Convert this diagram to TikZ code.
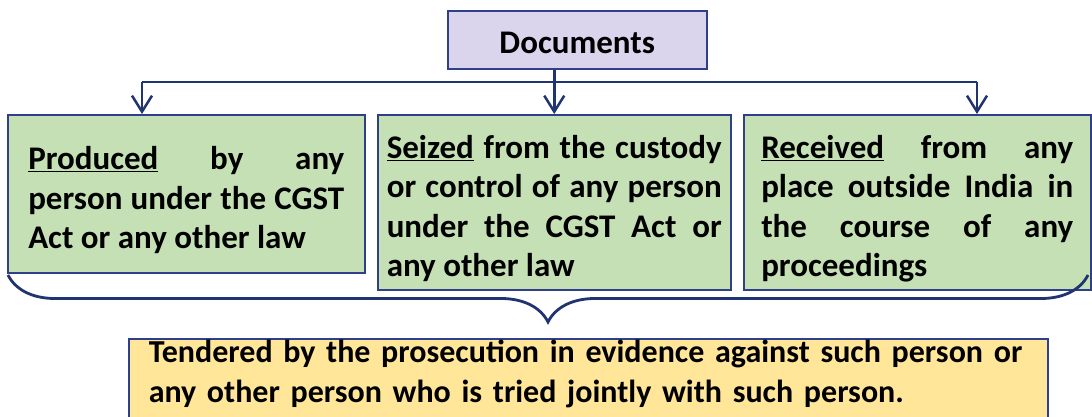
\documentclass[tikz,border=0pt]{standalone}
\usepackage{fontspec}
\setmainfont{Carlito}
\usetikzlibrary{arrows.meta, positioning, decorations.pathreplacing, calc}
\definecolor{navy}{HTML}{1F3470}
\definecolor{boxline}{HTML}{2F3F8A}
\definecolor{leaf}{HTML}{C5E0B4}
\definecolor{lilac}{HTML}{DAD5EC}
\definecolor{sand}{HTML}{FFE699}
\newcommand{\toppad}{\rule{0pt}{36pt}}

\begin{document}
\begin{tikzpicture}[
    x=1pt, y=-1pt,
    every node/.style={font=\fontsize{33}{39.5}\selectfont\bfseries},
    title/.style={draw=boxline, line width=1.5pt, fill=lilac, inner sep=0pt},
    source/.style={draw=boxline, line width=1.5pt, fill=leaf, inner xsep=0pt, align=justify, anchor=north west},
    note/.style={draw=boxline, line width=1.5pt, fill=sand, inner xsep=20pt, inner ysep=1pt, align=left, anchor=north west,
        font=\fontsize{32}{40}\selectfont\bfseries},
    link/.style={draw=navy, line width=2.5pt},
    arrow/.style={link, -{Straight Barb[length=16pt, width=20pt]}},
    brace/.style={draw=navy, line width=2.8pt, decorate, decoration={brace, amplitude=47pt}},
]
\useasboundingbox (0,0) rectangle (1092,416);
\clip (0,0) rectangle (1092,416);

% Top box
\node[title, anchor=north west, minimum width=259pt, minimum height=58pt] (docs) at (447,10) {\rule{0pt}{27pt}Documents};

% The three ways documents come in
\node[source, minimum width=357pt, minimum height=158pt, text width=316pt] (produced) at (7,114)
    {\toppad\underline{Produced} by any\linebreak person under the CGST\linebreak Act or any other law};
\node[source, minimum width=353pt, minimum height=175pt, text width=335pt] (seized) at (377,114)
    {\toppad\underline{Seized} from the custody\linebreak or control of any person\linebreak under the CGST Act or\linebreak any other law};
\node[source, minimum width=347pt, minimum height=175pt, text width=312pt] (received) at (743,114)
    {\toppad\underline{Received} from any\linebreak place outside India in\linebreak the course of any\linebreak proceedings};

% Branches
\coordinate (splitL) at (142,82);
\coordinate (splitR) at (977,82);
\draw[link] (splitL) -- (splitR);
\draw[arrow] (splitL) -- (splitL |- produced.north);
\draw[arrow] (splitR) -- (splitR |- received.north);
\draw[arrow] (docs.south -| seized.north) -- (seized.north);

% Brace gathering the three boxes
\coordinate (braceR) at (1088,275);
\coordinate (braceL) at (8,275);
\draw[brace] (braceR) -- (braceL);

% Result
\node[note, minimum width=919pt, text width=879pt, text depth=72pt] (tendered) at (128,338)
    {\mbox{Tendered by the prosecution in evidence against such person or}\\\mbox{any other person who is tried jointly with such person.}};
\end{tikzpicture}
\end{document}
